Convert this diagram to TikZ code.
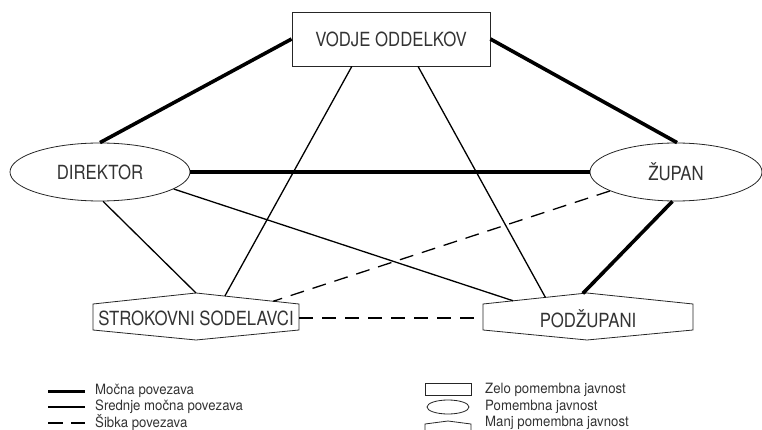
\documentclass[tikz,border=0pt]{standalone}
\usepackage{fontspec}
\setmainfont{TeX Gyre Heros}
\newfontfamily\mainlblfont[FakeStretch=0.86]{TeX Gyre Heros}
\newfontfamily\leglblfont[FakeStretch=0.93]{TeX Gyre Heros}
\usetikzlibrary{shapes.geometric,calc}
\begin{document}
\begin{tikzpicture}[x=1pt,y=-1pt,
  shapeline/.style={draw=black!85, line width=0.8pt},
  strong/.style={line width=3.6pt},
  medium/.style={line width=1.3pt},
  weak/.style={line width=1.3pt, dash pattern=on 14pt off 9pt},
  lbl/.style={font=\mainlblfont\fontsize{19.5}{22}\selectfont, text=black!80, inner sep=0pt},
  leg/.style={font=\leglblfont\fontsize{14.2}{16}\selectfont, text=black!80, anchor=west, inner sep=0pt}]
\useasboundingbox (0,0) rectangle (762,430);

% main shapes
\node[shapeline, rectangle, minimum width=198pt, minimum height=54pt, lbl] (vod) at (391,39) {VODJE ODDELKOV};
\node[shapeline, ellipse, minimum width=180pt, minimum height=58pt, lbl] (dir) at (100,172) {DIREKTOR};
\node[shapeline, ellipse, minimum width=172pt, minimum height=58pt, lbl] (zup) at (676,172) {ŽUPAN};

\coordinate (sL1) at (93,304);
\coordinate (sT) at (196,293);
\coordinate (sR1) at (299,304);
\coordinate (sR2) at (299,330);
\coordinate (sB) at (196,340);
\coordinate (sL2) at (93,330);
\draw[shapeline] (sL1)--(sT)--(sR1)--(sR2)--(sB)--(sL2)--cycle;
\node[lbl] (str) at (196,318) {STROKOVNI SODELAVCI};

\coordinate (pL1) at (483,304);
\coordinate (pT) at (587,293);
\coordinate (pR1) at (693,304);
\coordinate (pR2) at (693,330);
\coordinate (pB) at (587,340);
\coordinate (pL2) at (483,330);
\draw[shapeline] (pL1)--(pT)--(pR1)--(pR2)--(pB)--(pL2)--cycle;
\node[lbl] (pod) at (588,319) {PODŽUPANI};

% connector end points on the hexagons
\coordinate (sE1) at ($(sT)!0.28!(sR1)$);
\coordinate (sE2) at ($(sT)!0.75!(sR1)$);
\coordinate (sE4) at (299,318);
\coordinate (pE1) at ($(pL1)!0.29!(pT)$);
\coordinate (pE2) at ($(pL1)!0.6!(pT)$);
\coordinate (pE3) at ($(pL1)!0.96!(pT)$);
\coordinate (pE4) at (483,318);
\coordinate (vB1) at ($(vod.south west)!0.303!(vod.south east)$);
\coordinate (vB2) at ($(vod.south west)!0.636!(vod.south east)$);

% strong connections
\draw[strong] (vod.west) -- (dir.north);
\draw[strong] (vod.east) -- (zup.88);
\draw[strong] (dir.east) -- (zup.west);
\draw[strong] (zup.-97) -- (pE3);

% medium connections
\draw[medium] (vB1) -- (sE1);
\draw[medium] (vB2) -- (pE2);
\draw[medium] (dir.-84) -- (sT);
\draw[medium] (dir.-13) -- (pE1);

% weak connections
\draw[weak] (zup.196) -- (sE2);
\draw[weak] (sE4) -- (pE4);

% legend
\coordinate (la1) at (48,391); \coordinate (la2) at (85,391);
\coordinate (lb1) at (48,407); \coordinate (lb2) at (85,407);
\coordinate (lc1) at (48,423); \coordinate (lc2) at (85,423);
\draw[strong, line width=3pt] (la1) -- (la2);
\draw[medium] (lb1) -- (lb2);
\draw[weak, dash pattern=on 15pt off 8pt] (lc1) -- (lc2);
\node[leg] (t1) at (95,391) {Močna povezava};
\node[leg] (t2) at (95,407) {Srednje močna povezava};
\node[leg] (t3) at (95,423) {Šibka povezava};

\draw[shapeline] (425,383) rectangle (471,395);
\draw[shapeline] (448,407) ellipse [x radius=21, y radius=7];
\draw[shapeline] (425,436) -- (425,424) -- (448,421) -- (471,424) -- (471,436);
\node[leg] (t4) at (485,390) {Zelo pomembna javnost};
\node[leg] (t5) at (485,406.5) {Pomembna javnost};
\node[leg] (t6) at (485,423) {Manj pomembna javnost};
\end{tikzpicture}
\end{document}
